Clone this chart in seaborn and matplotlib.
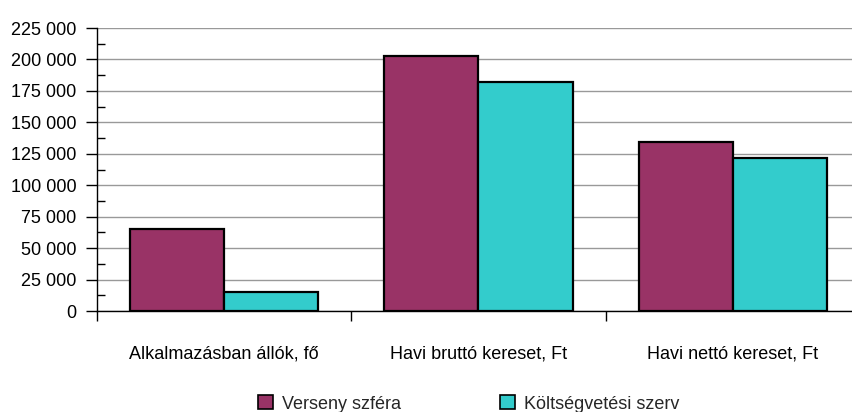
import numpy as np
import pandas as pd
import matplotlib.pyplot as plt
import seaborn as sns
from matplotlib.ticker import MultipleLocator, FuncFormatter, FixedLocator
from matplotlib.patches import Patch


CATEGORIES = ["Alkalmazásban állók, fő", "Havi bruttó kereset, Ft", "Havi nettó kereset, Ft"]
SERIES = ["Verseny szféra", "Költségvetési szerv"]
VERSENY = [65000, 203000, 134500]
KOLTSEGVETESI = [15400, 182300, 121900]
COLORS = ["#993366", "#33CCCC"]


def build_frame():
    rows = []
    for cat, v1, v2 in zip(CATEGORIES, VERSENY, KOLTSEGVETESI):
        rows.append({"cat": cat, "series": SERIES[0], "value": v1})
        rows.append({"cat": cat, "series": SERIES[1], "value": v2})
    return pd.DataFrame(rows)


def main():
    sns.set_theme(style="white")
    plt.rcParams["font.family"] = ["Liberation Sans", "DejaVu Sans"]

    df = build_frame()

    fig = plt.figure(figsize=(8.53, 4.12), dpi=100)
    ax = fig.add_axes([0.1137, 0.245, 1 - 0.1137, 0.687])

    sns.barplot(
        data=df, x="cat", y="value", hue="series", order=CATEGORIES,
        hue_order=SERIES, palette=COLORS, width=0.74, gap=0,
        edgecolor="black", linewidth=1.6, saturation=1, ax=ax, legend=False,
    )

    ax.set_ylim(0, 225000)
    ax.set_xlim(-0.5, 2.5 - 7 / 254)
    ax.yaxis.set_major_locator(MultipleLocator(25000))
    ax.yaxis.set_minor_locator(MultipleLocator(12500))
    ax.yaxis.set_major_formatter(FuncFormatter(lambda v, p: f"{int(v):,}".replace(",", " ")))
    ax.grid(axis="y", color="#999999", linewidth=1.0)
    ax.set_axisbelow(True)

    ax.xaxis.set_minor_locator(FixedLocator([-0.5, 0.5, 1.5, 2.5]))
    ax.tick_params(axis="x", which="major", length=0, pad=25, labelsize=13, colors="black")
    ax.tick_params(axis="x", which="minor", length=7, width=1, direction="out", color="black", bottom=True)
    ax.tick_params(axis="y", which="major", length=8, width=1, direction="out", color="black",
                   left=True, labelsize=13, labelcolor="black", pad=7)
    ax.tick_params(axis="y", which="minor", length=6, width=1, direction="in", color="black", left=True)

    for side in ["top", "right"]:
        ax.spines[side].set_visible(False)
    for side in ["left", "bottom"]:
        ax.spines[side].set_color("black")
        ax.spines[side].set_linewidth(1.0)

    ax.set_xlabel("")
    ax.set_ylabel("")

    handles = [Patch(facecolor=c, edgecolor="black", linewidth=1.2) for c in COLORS]
    fig.legend(handles, SERIES, loc="center left", bbox_to_anchor=(258 / 853, 1 - 404 / 412), ncol=2,
               frameon=False, fontsize=13, handlelength=0.83, handleheight=0.83,
               handletextpad=0.5, columnspacing=5.5, borderpad=0, borderaxespad=0)

    fig.savefig("out.png", dpi=100)
    plt.close(fig)


if __name__ == "__main__":
    main()
